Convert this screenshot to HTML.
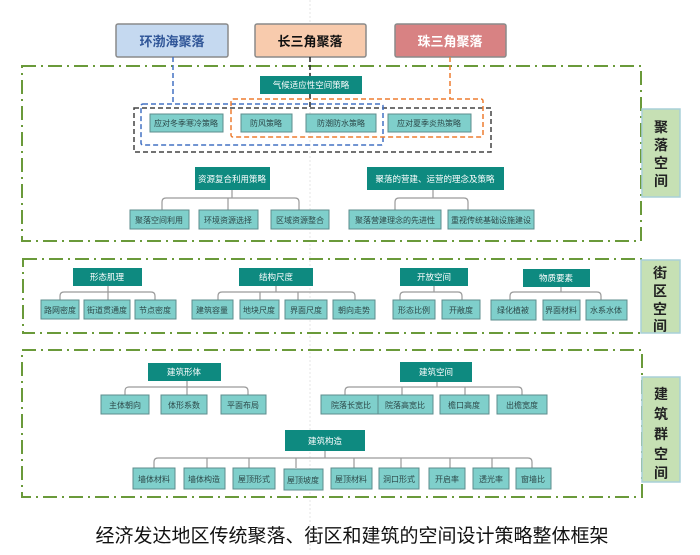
<!DOCTYPE html>
<html><head><meta charset="utf-8"><style>
html,body{margin:0;padding:0;background:#fff;}
svg text{font-family:"Liberation Sans","Noto Sans CJK SC",sans-serif;}
</style></head><body>
<svg width="700" height="550" viewBox="0 0 700 550" xmlns="http://www.w3.org/2000/svg">
<defs>
<style>
.h{fill:#0e8a80;}
.ht{fill:#fff;font-size:8.5px;text-anchor:middle;}
.c{fill:#7fcfcb;stroke:#5e8c8c;stroke-width:1;}
.ct{fill:#2d4a4a;font-size:8px;text-anchor:middle;}
.ln{fill:none;stroke:#9a9a9a;stroke-width:1.2;}
.sec{fill:none;stroke:#6a9a3a;stroke-width:2;stroke-dasharray:14,5,2,5;}
.lab{fill:#c6e0b4;stroke:#a9d0d8;stroke-width:1.5;}
.lt{fill:#222;font-size:14px;font-weight:bold;text-anchor:middle;}
</style>
</defs>
<line x1="310" y1="0" x2="310" y2="550" stroke="#e6e6e6" stroke-width="1" stroke-dasharray="2,2"/>
<!-- top region boxes -->
<rect x="116" y="24" width="112" height="33" fill="#c5d9f0" stroke="#8a8a8a" stroke-width="1.5" rx="2"/>
<text x="172" y="46" font-size="13" font-weight="bold" fill="#2f5597" text-anchor="middle">环渤海聚落</text>
<rect x="255" y="24" width="111" height="33" fill="#f8cbad" stroke="#8a8a8a" stroke-width="1.5" rx="2"/>
<text x="310" y="46" font-size="13" font-weight="bold" fill="#111" text-anchor="middle">长三角聚落</text>
<rect x="395" y="24" width="111" height="33" fill="#d88283" stroke="#8a8a8a" stroke-width="1.5" rx="2"/>
<text x="450" y="46" font-size="13" font-weight="bold" fill="#fff" text-anchor="middle">珠三角聚落</text>

<!-- sections -->
<path class="sec" d="M22,66 H641 V241 H22 Z"/>
<path class="sec" d="M23,259 H642 V333 H23 Z"/>
<path class="sec" d="M22,350 H642 V497 H22 Z"/>

<!-- dashed connectors -->
<path d="M173,57 V104" stroke="#4472c4" stroke-width="1.5" stroke-dasharray="5,3" fill="none"/>
<path d="M450,57 V99" stroke="#ed7d31" stroke-width="1.5" stroke-dasharray="5,3" fill="none"/>
<path d="M310,57 V76 M310,94 V108" stroke="#222" stroke-width="1.5" stroke-dasharray="5,3" fill="none"/>
<rect x="134" y="108" width="357" height="44" fill="none" stroke="#444" stroke-width="1.5" stroke-dasharray="5,3"/>
<rect x="141" y="104" width="242" height="41" fill="none" stroke="#4472c4" stroke-width="1.5" stroke-dasharray="5,3" rx="2"/>
<rect x="231" y="99" width="252" height="38" fill="none" stroke="#ed7d31" stroke-width="1.5" stroke-dasharray="5,3" rx="2"/>

<rect class="h" x="260" y="76" width="102" height="18"/><text class="ht" x="311" y="88">气候适应性空间策略</text>
<rect class="c" x="150" y="114" width="73" height="18"/><text class="ct" x="186" y="126">应对冬季寒冷策略</text>
<rect class="c" x="241" y="114" width="51" height="18"/><text class="ct" x="266" y="126">防风策略</text>
<rect class="c" x="306" y="114" width="70" height="18"/><text class="ct" x="341" y="126">防潮防水策略</text>
<rect class="c" x="388" y="114" width="83" height="18"/><text class="ct" x="429" y="126">应对夏季炎热策略</text>

<!-- section1 lower -->
<path class="ln" d="M232,190 V198 M162,210 V202 Q162,198 166,198 H295 Q299,198 299,202 V210 M228,198 V210"/>
<rect class="h" x="195" y="167" width="75" height="23"/><text class="ht" x="232" y="182">资源复合利用策略</text>
<rect class="c" x="130" y="210" width="59" height="19"/><text class="ct" x="159" y="223">聚落空间利用</text>
<rect class="c" x="199" y="210" width="59" height="19"/><text class="ct" x="228" y="223">环境资源选择</text>
<rect class="c" x="271" y="210" width="58" height="19"/><text class="ct" x="300" y="223">区域资源整合</text>

<path class="ln" d="M433,190 V198 M395,210 V202 Q395,198 399,198 H464 Q468,198 468,202 V210"/>
<rect class="h" x="367" y="167" width="137" height="23"/><text class="ht" x="435" y="182">聚落的营建、运营的理念及策略</text>
<rect class="c" x="349" y="210" width="92" height="19"/><text class="ct" x="395" y="223">聚落营建理念的先进性</text>
<rect class="c" x="448" y="210" width="86" height="19"/><text class="ct" x="491" y="223">重视传统基础设施建设</text>

<!-- section2 -->
<path class="ln" d="M108,286 V292 M60,300 V296 Q60,292 64,292 H151 Q155,292 155,296 V300 M108,292 V300"/>
<rect class="h" x="73" y="268" width="69" height="18"/><text class="ht" x="107" y="280">形态肌理</text>
<rect class="c" x="41" y="300" width="38" height="19"/><text class="ct" x="60" y="313">路网密度</text>
<rect class="c" x="84" y="300" width="46" height="19"/><text class="ct" x="107" y="313">街道贯通度</text>
<rect class="c" x="135" y="300" width="41" height="19"/><text class="ct" x="155" y="313">节点密度</text>

<path class="ln" d="M276,286 V292 M218,300 V296 Q218,292 222,292 H351 Q355,292 355,296 V300 M260,292 V300 M298,292 V300"/>
<rect class="h" x="239" y="268" width="74" height="18"/><text class="ht" x="276" y="280">结构尺度</text>
<rect class="c" x="192" y="300" width="41" height="19"/><text class="ct" x="212" y="313">建筑容量</text>
<rect class="c" x="240" y="300" width="39" height="19"/><text class="ct" x="259" y="313">地块尺度</text>
<rect class="c" x="285" y="300" width="42" height="19"/><text class="ct" x="306" y="313">界面尺度</text>
<rect class="c" x="333" y="300" width="42" height="19"/><text class="ct" x="354" y="313">朝向走势</text>

<path class="ln" d="M434,286 V292 M400,300 V296 Q400,292 404,292 H458 Q462,292 462,296 V300"/>
<rect class="h" x="400" y="268" width="68" height="18"/><text class="ht" x="434" y="280">开放空间</text>
<rect class="c" x="393" y="300" width="42" height="19"/><text class="ct" x="414" y="313">形态比例</text>
<rect class="c" x="442" y="300" width="38" height="19"/><text class="ct" x="461" y="313">开敞度</text>

<path class="ln" d="M561,287 V292 M510,300 V296 Q510,292 514,292 H597 Q601,292 601,296 V300"/>
<rect class="h" x="523" y="269" width="67" height="18"/><text class="ht" x="556" y="281">物质要素</text>
<rect class="c" x="491" y="300" width="45" height="20"/><text class="ct" x="513" y="313">绿化植被</text>
<rect class="c" x="543" y="300" width="37" height="20"/><text class="ct" x="561" y="313">界面材料</text>
<rect class="c" x="586" y="300" width="41" height="20"/><text class="ct" x="606" y="313">水系水体</text>

<!-- section3 -->
<path class="ln" d="M187,381 V387 M125,395 V391 Q125,387 129,387 H244 Q248,387 248,391 V395 M187,387 V395"/>
<rect class="h" x="148" y="363" width="73" height="18"/><text class="ht" x="184" y="375">建筑形体</text>
<rect class="c" x="101" y="395" width="48" height="19"/><text class="ct" x="125" y="408">主体朝向</text>
<rect class="c" x="161" y="395" width="46" height="19"/><text class="ct" x="184" y="408">体形系数</text>
<rect class="c" x="221" y="395" width="45" height="19"/><text class="ct" x="243" y="408">平面布局</text>

<path class="ln" d="M437,382 V387 M345,395 V391 Q345,387 349,387 H518 Q522,387 522,391 V395 M402,387 V395 M465,387 V395"/>
<rect class="h" x="400" y="362" width="72" height="20"/><text class="ht" x="436" y="375">建筑空间</text>
<rect class="c" x="321" y="395" width="60" height="19"/><text class="ct" x="351" y="408">院落长宽比</text>
<rect class="c" x="378" y="395" width="55" height="19"/><text class="ct" x="405" y="408">院落高宽比</text>
<rect class="c" x="440" y="395" width="49" height="19"/><text class="ct" x="464" y="408">檐口高度</text>
<rect class="c" x="497" y="395" width="50" height="19"/><text class="ct" x="522" y="408">出檐宽度</text>

<path class="ln" d="M325,451 V458 M154,468 V462 Q154,458 158,458 H528 Q532,458 532,462 V468 M207,458 V468 M249,458 V468 M296,458 V468 M354,458 V468 M401,458 V468 M450,458 V468 M492,458 V468"/>
<rect class="h" x="285" y="430" width="80" height="21"/><text class="ht" x="325" y="444">建筑构造</text>
<rect class="c" x="133" y="468" width="42" height="21"/><text class="ct" x="154" y="482">墙体材料</text>
<rect class="c" x="184" y="468" width="41" height="21"/><text class="ct" x="204" y="482">墙体构造</text>
<rect class="c" x="233" y="468" width="42" height="21"/><text class="ct" x="254" y="482">屋顶形式</text>
<rect class="c" x="284" y="469" width="39" height="21"/><text class="ct" x="303" y="483">屋顶坡度</text>
<rect class="c" x="331" y="468" width="41" height="21"/><text class="ct" x="351" y="482">屋顶材料</text>
<rect class="c" x="379" y="468" width="40" height="21"/><text class="ct" x="399" y="482">洞口形式</text>
<rect class="c" x="429" y="468" width="36" height="21"/><text class="ct" x="447" y="482">开启率</text>
<rect class="c" x="473" y="468" width="36" height="21"/><text class="ct" x="491" y="482">透光率</text>
<rect class="c" x="516" y="468" width="35" height="21"/><text class="ct" x="533" y="482">窗墙比</text>

<!-- right labels -->
<rect class="lab" x="642" y="109" width="38" height="88"/>
<text class="lt" x="661" y="132">聚</text><text class="lt" x="661" y="150">落</text><text class="lt" x="661" y="168">空</text><text class="lt" x="661" y="186">间</text>
<rect class="lab" x="641" y="260" width="39" height="73"/>
<text class="lt" x="660" y="278">街</text><text class="lt" x="660" y="296">区</text><text class="lt" x="660" y="314">空</text><text class="lt" x="660" y="331">间</text>
<rect class="lab" x="642" y="377" width="38" height="105"/>
<text class="lt" x="661" y="399">建</text><text class="lt" x="661" y="419">筑</text><text class="lt" x="661" y="439">群</text><text class="lt" x="661" y="459">空</text><text class="lt" x="661" y="478">间</text>

<text x="352" y="542" font-size="19" fill="#111" text-anchor="middle">经济发达地区传统聚落、街区和建筑的空间设计策略整体框架</text>
</svg>
</body></html>
